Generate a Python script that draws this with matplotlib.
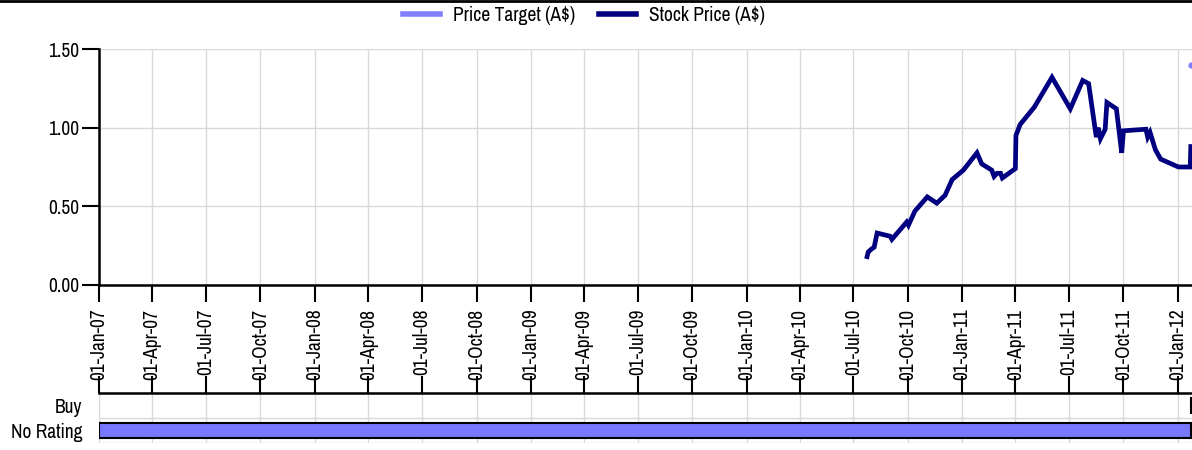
import matplotlib
matplotlib.use("Agg")
import matplotlib.pyplot as plt
import matplotlib.dates as mdates
from matplotlib.lines import Line2D
import pandas as pd

plt.rcParams.update({
    "font.family": ["Archivo Narrow", "Liberation Sans", "DejaVu Sans"],
    "font.size": 14,
})

# stock price (A$)
price_dates = [
    "2010-07-24", "2010-07-26", "2010-08-01", "2010-08-05", "2010-08-10",
    "2010-09-01", "2010-09-04", "2010-09-29", "2010-10-02", "2010-10-13",
    "2010-11-03", "2010-11-19", "2010-12-03", "2010-12-15", "2011-01-03",
    "2011-01-26", "2011-02-03", "2011-02-20", "2011-02-24", "2011-03-01",
    "2011-03-07", "2011-03-10", "2011-04-01", "2011-04-02", "2011-04-09",
    "2011-05-03", "2011-06-02", "2011-07-03", "2011-07-24", "2011-08-03",
    "2011-08-16", "2011-08-19", "2011-08-23", "2011-08-31", "2011-09-03",
    "2011-09-19", "2011-09-28", "2011-10-01", "2011-11-08", "2011-11-11",
    "2011-11-15", "2011-11-24", "2011-12-03", "2012-01-02", "2012-01-22",
    "2012-01-23",
]
price_values = [
    0.18, 0.21, 0.23, 0.24, 0.33,
    0.31, 0.29, 0.40, 0.38, 0.47,
    0.56, 0.52, 0.57, 0.67, 0.73,
    0.84, 0.77, 0.73, 0.69, 0.71,
    0.71, 0.68, 0.74, 0.95, 1.02,
    1.13, 1.32, 1.12, 1.30, 1.28,
    0.94, 1.00, 0.93, 0.99, 1.16,
    1.12, 0.84, 0.98, 0.99, 0.94,
    0.97, 0.86, 0.80, 0.75, 0.75,
    0.88,
]

# price target (A$)
target_dates = ["2012-01-23"]
target_values = [1.40]

# broker rating history
rating_names = ["Buy", "No Rating"]
rating_labels = ["No Rating", "Buy"]
rating_starts = ["2007-01-01", "2012-01-23"]
rating_ends = ["2012-01-23", "2012-04-01"]

x_start = pd.Timestamp("2007-01-01")
x_end = pd.Timestamp("2012-01-25")

fig = plt.figure(figsize=(11.92, 4.5), dpi=100)
ax = fig.add_axes([0.0831, 0.3667, 1 - 0.0831, 0.8911 - 0.3667])
axr = fig.add_axes([0.0831, 0.0156, 1 - 0.0831, 0.1267 - 0.0156], sharex=ax)

# main price chart
pdates = pd.to_datetime(price_dates)
tdates = pd.to_datetime(target_dates)
ax.plot(tdates, target_values, color="#8080ff", lw=0, marker="o", ms=3.5,
        label="Price Target (A$)")
ax.plot(pdates, price_values, color="#000080", lw=3.4, solid_joinstyle="miter",
        label="Stock Price (A$)")

ax.set_xlim(x_start, x_end)
ax.set_ylim(0, 1.5)
ax.set_yticks([0, 0.5, 1.0, 1.5])
ax.yaxis.set_major_formatter(plt.FuncFormatter(lambda v, p: f"{v:.2f}"))
ax.xaxis.set_major_locator(mdates.MonthLocator(bymonth=[1, 4, 7, 10], bymonthday=1))
ax.xaxis.set_major_formatter(mdates.DateFormatter("%d-%b-%y"))
ax.tick_params(axis="both", direction="out", length=12, width=1.5, color="black")
ax.tick_params(axis="y", pad=2.5)
ax.tick_params(axis="x", pad=5)
plt.setp(ax.get_xticklabels(), rotation=90, va="top", ha="center")
ax.grid(True, color="#d9d9d9", lw=1)
ax.set_axisbelow(True)
for side in ["top", "right"]:
    ax.spines[side].set_visible(False)
for side in ["left", "bottom"]:
    ax.spines[side].set_linewidth(1.8)

# legend: line handles for both series
handles = [Line2D([], [], color="#8080ff", lw=4), Line2D([], [], color="#000080", lw=4)]
fig.legend(handles, ["Price Target (A$)", "Stock Price (A$)"], loc="center",
           bbox_to_anchor=(0.49, 0.966), ncol=2, frameon=False,
           handlelength=1.9, columnspacing=1.2, handletextpad=0.7, fontsize=14)

# rating strip
ypos = {"No Rating": 0, "Buy": 1}
for name, s, e in zip(rating_labels, rating_starts, rating_ends):
    s, e = pd.Timestamp(s), pd.Timestamp(e)
    axr.barh(ypos[name], mdates.date2num(e) - mdates.date2num(s),
             left=mdates.date2num(s), height=0.6, color="#7878ff",
             edgecolor="black", lw=1.5)
axr.set_ylim(-0.5, 1.5)
axr.set_yticks([ypos[n] for n in rating_names])
axr.set_yticklabels(rating_names)
axr.set_yticks([-0.5, 0.5], minor=True)
axr.tick_params(axis="y", which="both", length=0, pad=12)
axr.tick_params(axis="x", top=True, bottom=False, labeltop=False,
                labelbottom=False, direction="out", length=12, width=1.5)
axr.grid(True, axis="x", color="#d9d9d9", lw=1)
axr.grid(True, axis="y", which="minor", color="#d9d9d9", lw=1)
axr.set_axisbelow(True)
for side in ["left", "right", "bottom"]:
    axr.spines[side].set_visible(False)
axr.spines["top"].set_linewidth(1.8)

# thin frame line along the top edge
fig.add_artist(Line2D([0, 1], [0.998, 0.998], color="black", lw=2,
                      transform=fig.transFigure))

fig.savefig("out.png", dpi=100)
